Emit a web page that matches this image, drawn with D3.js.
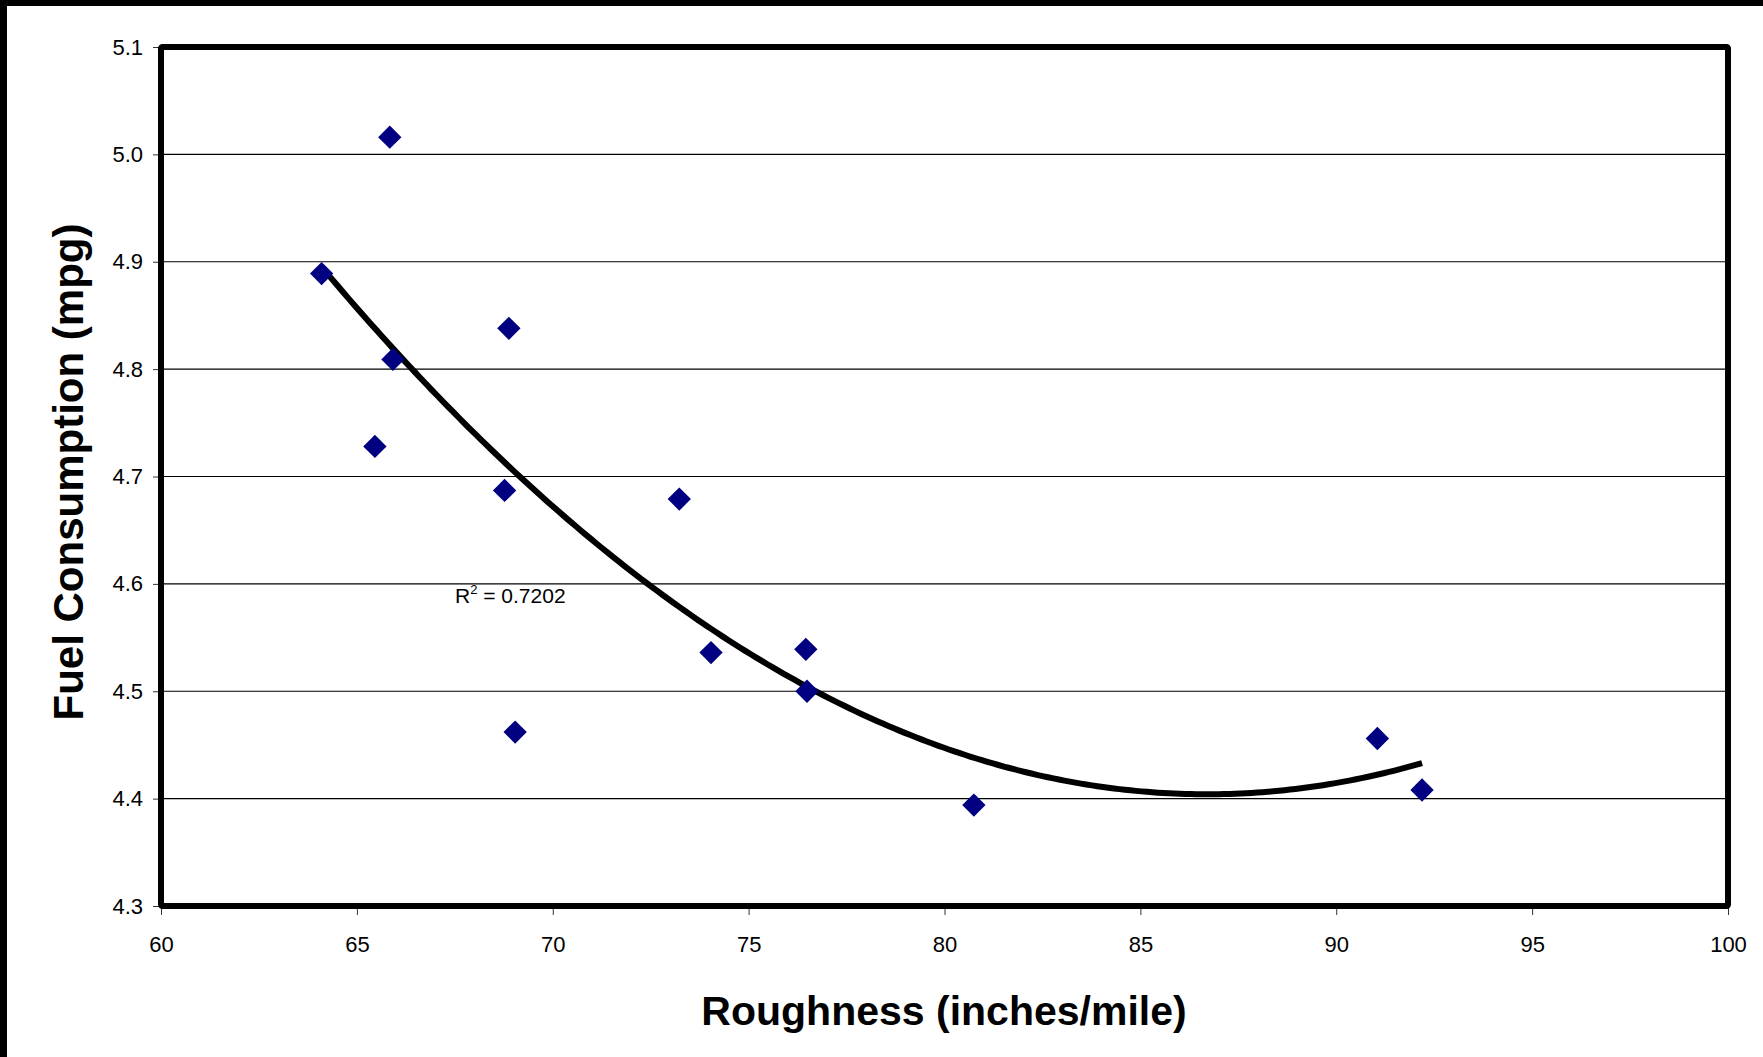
<!DOCTYPE html>
<html>
<head>
<meta charset="utf-8">
<script src="https://cdn.jsdelivr.net/npm/d3@7"></script>
<style>
  html, body { margin: 0; padding: 0; background: #fff; }
  svg { display: block; }
  text { font-family: "Liberation Sans", Arial, sans-serif; fill: #000; }
</style>
</head>
<body>
<svg id="chart" width="1763" height="1057"></svg>
<script>
// ---- data ----
const roughness = [65.84, 64.10, 68.88, 65.92, 65.46, 68.77, 73.23, 74.04, 76.46, 76.49, 69.04, 80.75, 91.05, 92.19];
const fuel      = [5.016, 4.889, 4.838, 4.809, 4.728, 4.687, 4.679, 4.536, 4.539, 4.500, 4.462, 4.394, 4.456, 4.408];
const xTicks = [60, 65, 70, 75, 80, 85, 90, 95, 100];
const yTicks = [4.3, 4.4, 4.5, 4.6, 4.7, 4.8, 4.9, 5.0, 5.1];
const xTitle = "Roughness (inches/mile)";
const yTitle = "Fuel Consumption (mpg)";
const r2Label = "0.7202";

// ---- layout ----
const W = 1763, H = 1057;
const L = 161, R = 1728, T = 47, B = 906;

const svg = d3.select("#chart");
svg.append("rect").attr("width", W).attr("height", H).attr("fill", "#fff");
// outer border strips (top and left)
svg.append("rect").attr("x", 0).attr("y", 0).attr("width", W).attr("height", 6).attr("fill", "#000");
svg.append("rect").attr("x", 0).attr("y", 0).attr("width", 7).attr("height", H).attr("fill", "#000");

const x = d3.scaleLinear().domain([60, 100]).range([L, R]);
const y = d3.scaleLinear().domain([4.3, 5.1]).range([B, T]);

// gridlines
svg.append("g").selectAll("line").data(yTicks.filter(v => v > 4.3 && v < 5.1)).join("line")
  .attr("x1", L).attr("x2", R)
  .attr("y1", d => y(d)).attr("y2", d => y(d))
  .attr("stroke", "#000").attr("stroke-width", 1.2);

// axes
const yAxis = d3.axisLeft(y).tickValues(yTicks).tickFormat(d3.format(".1f")).tickSize(7).tickPadding(10);
const gy = svg.append("g").attr("transform", `translate(${L - 1},0)`).call(yAxis);
gy.select(".domain").remove();
gy.selectAll(".tick line").attr("stroke", "#333");
gy.selectAll(".tick text").attr("font-size", 22).attr("font-family", "Liberation Sans, Arial, sans-serif");

const xAxis = d3.axisBottom(x).tickValues(xTicks).tickFormat(d3.format("d")).tickSize(8).tickPadding(21);
const gx = svg.append("g").attr("transform", `translate(0,${B + 1})`).call(xAxis);
gx.select(".domain").remove();
gx.selectAll(".tick line").attr("stroke", "#333");
gx.selectAll(".tick text").attr("font-size", 22).attr("font-family", "Liberation Sans, Arial, sans-serif");

// frame
svg.append("rect").attr("x", L).attr("y", T).attr("width", R - L).attr("height", B - T)
  .attr("fill", "none").attr("stroke", "#000").attr("stroke-width", 6).attr("rx", 1.5);

// polynomial (order 2) least-squares trendline
const n = roughness.length;
let S = [0,0,0,0,0], Sy = [0,0,0];
for (let i = 0; i < n; i++) {
  const xi = roughness[i], yi = fuel[i];
  for (let k = 0; k < 5; k++) S[k] += Math.pow(xi, k);
  for (let k = 0; k < 3; k++) Sy[k] += Math.pow(xi, k) * yi;
}
function solve3(A, b) {
  const M = A.map((r, i) => r.concat([b[i]]));
  for (let c = 0; c < 3; c++) {
    let p = c;
    for (let r = c + 1; r < 3; r++) if (Math.abs(M[r][c]) > Math.abs(M[p][c])) p = r;
    [M[c], M[p]] = [M[p], M[c]];
    for (let r = 0; r < 3; r++) if (r !== c) {
      const f = M[r][c] / M[c][c];
      for (let k = c; k < 4; k++) M[r][k] -= f * M[c][k];
    }
  }
  return [M[0][3] / M[0][0], M[1][3] / M[1][1], M[2][3] / M[2][2]];
}
const coef = solve3([[S[0], S[1], S[2]], [S[1], S[2], S[3]], [S[2], S[3], S[4]]], Sy);
const f = v => coef[0] + coef[1] * v + coef[2] * v * v;
const xmin = d3.min(roughness), xmax = d3.max(roughness);
const curve = d3.range(0, 201).map(i => xmin + (xmax - xmin) * i / 200);
svg.append("path")
  .datum(curve)
  .attr("d", d3.line().x(d => x(d)).y(d => y(f(d))))
  .attr("fill", "none").attr("stroke", "#000").attr("stroke-width", 6);

// points
const pts = roughness.map((v, i) => ({x: v, y: fuel[i]}));
const diamond = d3.symbol().type(d3.symbolSquare).size(272);
svg.append("g").selectAll("path").data(pts).join("path")
  .attr("d", diamond)
  .attr("transform", d => `translate(${x(d.x)},${y(d.y)}) rotate(45)`)
  .attr("fill", "#000080");

// R² label
const r2 = svg.append("text").attr("x", 455).attr("y", 603).attr("font-size", 21);
r2.append("tspan").text("R");
r2.append("tspan").attr("font-size", 13).attr("dy", -9).text("2");
r2.append("tspan").attr("dy", 9).text(" = " + r2Label);

// axis titles
svg.append("text").attr("x", 944).attr("y", 1025).attr("text-anchor", "middle")
  .attr("font-size", 41).attr("font-weight", "bold").text(xTitle);
svg.append("text").attr("transform", `translate(83,472) rotate(-90)`).attr("text-anchor", "middle")
  .attr("font-size", 42).attr("font-weight", "bold").text(yTitle);
</script>
</body>
</html>
